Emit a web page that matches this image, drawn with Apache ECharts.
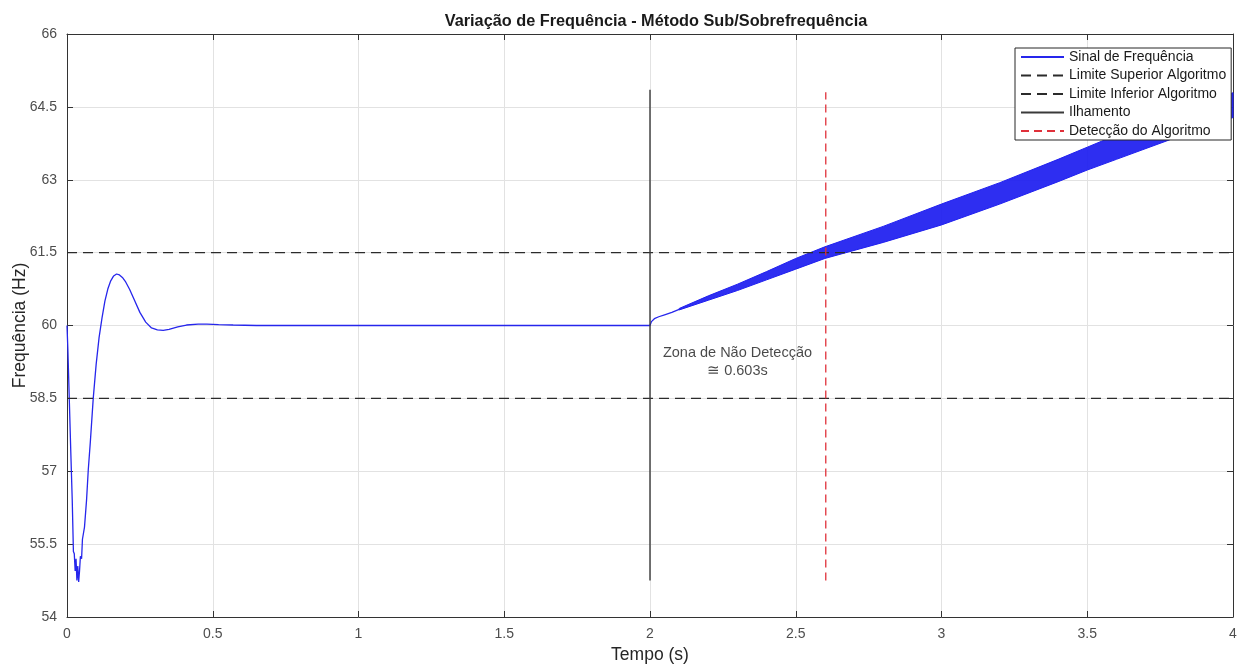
<!DOCTYPE html>
<html>
<head>
<meta charset="utf-8">
<title>Variação de Frequência - Método Sub/Sobrefrequência</title>
<script src="https://cdn.jsdelivr.net/npm/echarts@6/dist/echarts.min.js"></script>
<style>
  html, body { margin: 0; padding: 0; background: #ffffff; }
  #chart { width: 1248px; height: 666px; }
</style>
</head>
<body>
<div id="chart"></div>
<script>
// Frequency signal: transient after start-up, steady 60 Hz, then drift after islanding (t = 2 s)
const sinalT = [0, 0.003, 0.008, 0.013, 0.018, 0.022, 0.025, 0.028, 0.031, 0.034, 0.037, 0.040, 0.043, 0.046, 0.050, 0.053, 0.056, 0.060, 0.067, 0.073, 0.080, 0.090, 0.100, 0.110, 0.120, 0.130, 0.140, 0.150, 0.160, 0.170, 0.180, 0.190, 0.200, 0.215, 0.230, 0.250, 0.270, 0.290, 0.310, 0.330, 0.350, 0.380, 0.410, 0.450, 0.480, 0.520, 0.570, 0.650, 0.800, 1.000, 1.500, 2.000, 2.005, 2.015, 2.030, 2.050, 2.075, 2.100];
const sinalF = [60.0, 59.5, 58.45, 57.4, 56.4, 55.35, 55.3, 54.95, 55.2, 54.75, 55.05, 54.72, 54.95, 55.25, 55.2, 55.6, 55.62, 55.85, 56.4, 57.03, 57.6, 58.5, 59.2, 59.75, 60.15, 60.5, 60.75, 60.92, 61.02, 61.06, 61.04, 60.99, 60.91, 60.74, 60.54, 60.27, 60.07, 59.95, 59.91, 59.9, 59.92, 59.97, 60.01, 60.03, 60.03, 60.02, 60.01, 60.0, 60.0, 60.0, 60.0, 60.0, 60.08, 60.14, 60.18, 60.22, 60.27, 60.33];

// Oscillation envelope of the signal after islanding (lower / upper bounds)
const bandT    = [2.10, 2.20, 2.30, 2.40, 2.50, 2.60, 2.80, 3.00, 3.20, 3.40, 3.50, 3.60, 3.80, 4.00];
const bandLow  = [60.32, 60.52, 60.72, 60.94, 61.16, 61.38, 61.71, 62.07, 62.50, 62.96, 63.20, 63.42, 63.86, 64.28];
const bandHigh = [60.35, 60.61, 60.85, 61.11, 61.38, 61.62, 62.04, 62.50, 62.94, 63.42, 63.67, 63.92, 64.38, 64.79];

// Algorithm thresholds
const limiteSuperior = 61.5;
const limiteInferior = 58.5;
const tempoRange = [0, 4];

// Islanding instant and detection instant (vertical markers)
const ilhamentoT = 2.0;
const ilhamentoF = [54.75, 64.85];
const deteccaoT = 2.603;
const deteccaoF = [54.75, 64.8];

// Annotation for the non-detection zone
const zonaPos = [2.30, 59.25];
const zonaTexto = 'Zona de Não Detecção\n≅ 0.603s';

// Axis tick settings
const xTicks = { min: 0, max: 4, interval: 0.5 };
const yTicks = { min: 54, max: 66, interval: 1.5 };

const FONT = '"Liberation Sans", Arial, Helvetica, sans-serif';

const sinalData = sinalT.map((t, i) => [t, sinalF[i]]);
const bandData = bandT.map((t, i) => [t, bandLow[i], bandHigh[i]]);

const chart = echarts.init(document.getElementById('chart'), null, { renderer: 'canvas' });

const axisColor = '#333333';
const tickLabel = { color: '#4d4d4d', fontSize: 14, fontFamily: FONT };

// Filled envelope between lower and upper bounds, placed through the grid's scales
function renderEnvelope(params, api) {
  if (params.dataIndex !== 0) return null;
  const upper = [];
  const lower = [];
  for (let i = 0; i < bandData.length; i++) {
    upper.push(api.coord([bandData[i][0], bandData[i][2]]));
    lower.push(api.coord([bandData[i][0], bandData[i][1]]));
  }
  return {
    type: 'polygon',
    shape: { points: upper.concat(lower.reverse()) },
    style: { fill: 'rgba(28,28,240,0.92)', stroke: '#2020f0', lineWidth: 1 }
  };
}

chart.setOption({
  animation: false,
  backgroundColor: '#ffffff',
  title: {
    text: 'Variação de Frequência - Método Sub/Sobrefrequência',
    left: 651, top: 9, textAlign: 'center',
    textStyle: { fontSize: 16.3, fontWeight: 'bold', color: '#1a1a1a', fontFamily: FONT }
  },
  grid: { left: 67, right: 15, top: 34, bottom: 49, containLabel: false, outerBoundsMode: 'none' },
  legend: {
    data: ['Sinal de Frequência', 'Limite Superior Algoritmo', 'Limite Inferior Algoritmo', 'Ilhamento', 'Detecção do Algoritmo'],
    orient: 'vertical',
    left: 1015, top: 48,
    padding: [2, 5, 2, 5],
    itemWidth: 43, itemHeight: 14, itemGap: 4.5,
    backgroundColor: '#ffffff',
    borderColor: '#262626', borderWidth: 1, borderRadius: 0,
    itemStyle: { opacity: 0 },
    textStyle: { fontSize: 14, color: '#1a1a1a', fontFamily: FONT },
    selectedMode: false
  },
  xAxis: [
    {
      type: 'value', min: xTicks.min, max: xTicks.max, interval: xTicks.interval,
      name: 'Tempo (s)', nameLocation: 'middle', nameGap: 29, nameMoveOverlap: false,
      nameTextStyle: { fontSize: 17.5, color: '#262626', fontFamily: FONT },
      axisLine: { show: true, onZero: false, lineStyle: { color: axisColor, width: 1 } },
      axisTick: { show: true, inside: true, length: 6, lineStyle: { color: axisColor } },
      axisLabel: Object.assign({ margin: 10, formatter: v => String(v) }, tickLabel),
      splitLine: { show: true, lineStyle: { color: '#e2e2e2', width: 1 } }
    },
    {
      type: 'value', position: 'top', min: xTicks.min, max: xTicks.max, interval: xTicks.interval,
      axisLine: { show: true, onZero: false, lineStyle: { color: axisColor, width: 1 } },
      axisTick: { show: true, inside: true, length: 6, lineStyle: { color: axisColor } },
      axisLabel: { show: false }, splitLine: { show: false }
    }
  ],
  yAxis: [
    {
      type: 'value', min: yTicks.min, max: yTicks.max, interval: yTicks.interval,
      name: 'Frequência (Hz)', nameLocation: 'middle', nameGap: 38, nameMoveOverlap: false,
      nameTextStyle: { fontSize: 17.5, color: '#262626', fontFamily: FONT },
      axisLine: { show: true, onZero: false, lineStyle: { color: axisColor, width: 1 } },
      axisTick: { show: true, inside: true, length: 6, lineStyle: { color: axisColor } },
      axisLabel: Object.assign({ margin: 10, formatter: v => String(v) }, tickLabel),
      splitLine: { show: true, lineStyle: { color: '#e2e2e2', width: 1 } }
    },
    {
      type: 'value', position: 'right', min: yTicks.min, max: yTicks.max, interval: yTicks.interval,
      axisLine: { show: true, onZero: false, lineStyle: { color: axisColor, width: 1 } },
      axisTick: { show: true, inside: true, length: 6, lineStyle: { color: axisColor } },
      axisLabel: { show: false }, splitLine: { show: false }
    }
  ],
  series: [
    {
      name: 'Sinal de Frequência', type: 'line', data: sinalData,
      symbol: 'none', showSymbol: false, smooth: false,
      lineStyle: { color: '#2626ec', width: 1.3 }, itemStyle: { color: '#2626ec' },
      z: 3
    },
    {
      name: 'envelope', type: 'custom', coordinateSystem: 'cartesian2d',
      data: bandData, encode: { x: 0, y: [1, 2] },
      renderItem: renderEnvelope, silent: true, z: 3
    },
    {
      name: 'Limite Superior Algoritmo', type: 'line',
      data: [[tempoRange[0], limiteSuperior], [tempoRange[1], limiteSuperior]],
      symbol: 'none', lineStyle: { color: '#2b2b2b', width: 1.3, type: [10, 6] },
      itemStyle: { color: '#2b2b2b' }, z: 4
    },
    {
      name: 'Limite Inferior Algoritmo', type: 'line',
      data: [[tempoRange[0], limiteInferior], [tempoRange[1], limiteInferior]],
      symbol: 'none', lineStyle: { color: '#2b2b2b', width: 1.3, type: [10, 6] },
      itemStyle: { color: '#2b2b2b' }, z: 4
    },
    {
      name: 'Ilhamento', type: 'line',
      data: [[ilhamentoT, ilhamentoF[0]], [ilhamentoT, ilhamentoF[1]]],
      symbol: 'none', lineStyle: { color: '#3a3a3a', width: 1.4 },
      itemStyle: { color: '#3a3a3a' }, z: 4
    },
    {
      name: 'Detecção do Algoritmo', type: 'line',
      data: [[deteccaoT, deteccaoF[0]], [deteccaoT, deteccaoF[1]]],
      symbol: 'none', lineStyle: { color: '#e0303a', width: 1.3, type: [8, 5] },
      itemStyle: { color: '#e0303a' }, z: 5
    },
    {
      name: 'zonaNaoDeteccao', type: 'scatter', data: [zonaPos],
      symbolSize: 0, silent: true, z: 6,
      label: {
        show: true, position: 'inside', formatter: zonaTexto,
        fontSize: 14.5, lineHeight: 18, color: '#1a1a1a', fontFamily: FONT, align: 'center'
      }
    }
  ]
});
</script>
</body>
</html>
